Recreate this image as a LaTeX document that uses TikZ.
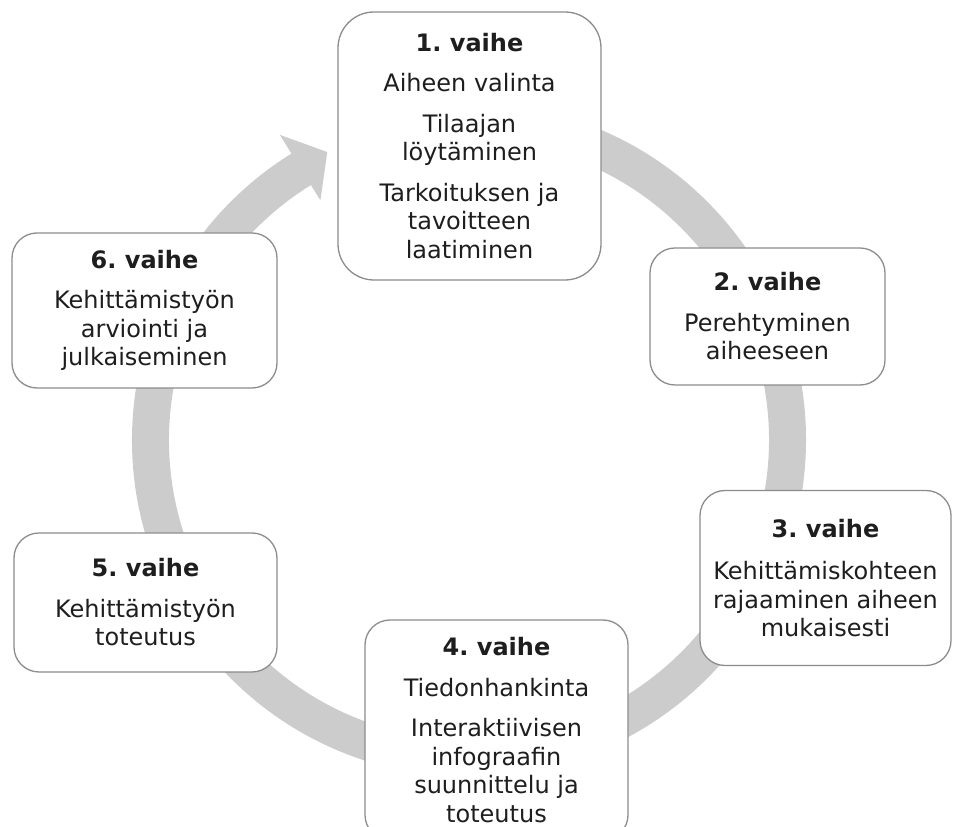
\documentclass[tikz,border=0pt]{standalone}
\usepackage{fontspec}
\setmainfont{DejaVu Sans}
\usetikzlibrary{calc}
\definecolor{ringgray}{RGB}{204,204,204}
\definecolor{boxline}{RGB}{140,140,140}
\definecolor{txt}{RGB}{30,30,30}
\frenchspacing
\begin{document}
\begin{tikzpicture}[x=1pt,y=1pt,
  stage/.style={draw=boxline, line width=1.3pt, fill=white, rounded corners=25pt,
    align=center, text=txt, inner sep=0pt,
    font=\fontsize{24}{28.5}\selectfont}]
\useasboundingbox (0,0) rectangle (953,827);
\clip (0,0) rectangle (953,827);
\coordinate (C) at (469,387);
% cycle ring with arrow head
\fill[ringgray] ($(C)+(85:337)$) arc[start angle=85, end angle=-238.2, radius=337]
  -- ($(C)+(121.8:359)$) -- ($(C)+(116.2:321)$) -- ($(C)+(121.8:282)$)
  -- ($(C)+(121.8:300)$) arc[start angle=-238.2, end angle=85, radius=300] -- cycle;
% stages
\node[stage, minimum width=263pt, minimum height=268pt, rounded corners=36pt] (b1) at (469.5,681)
  {\textbf{1. vaihe}\\[12pt]Aiheen valinta\\[12pt]Tilaajan\\löytäminen\\[12pt]Tarkoituksen ja\\tavoitteen\\laatiminen};
\node[stage, minimum width=235pt, minimum height=137pt] (b2) at (767.5,510.5)
  {\textbf{2. vaihe}\\[12pt]Perehtyminen\\aiheeseen};
\node[stage, minimum width=251pt, minimum height=175pt] (b3) at (825.5,249)
  {\textbf{3. vaihe}\\[14pt]Kehittämiskohteen\\rajaaminen aiheen\\mukaisesti};
\node[stage, minimum width=263pt, minimum height=220pt] (b4) at (496.5,97)
  {\textbf{4. vaihe}\\[12pt]Tiedonhankinta\\[12pt]Interaktiivisen\\infograafin\\suunnittelu ja\\toteutus};
\node[stage, minimum width=263pt, minimum height=139pt] (b5) at (145.5,224.5)
  {\textbf{5. vaihe}\\[12pt]Kehittämistyön\\toteutus};
\node[stage, minimum width=265pt, minimum height=155pt] (b6) at (144.5,516.5)
  {\textbf{6. vaihe}\\[12pt]Kehittämistyön\\arviointi ja\\julkaiseminen};
\end{tikzpicture}
\end{document}
